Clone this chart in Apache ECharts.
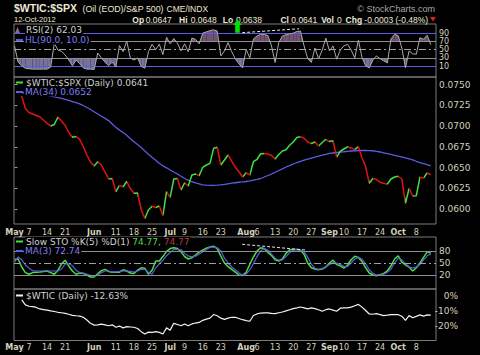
<!DOCTYPE html>
<html><head><meta charset="utf-8">
<script src="https://cdn.jsdelivr.net/npm/echarts@6/dist/echarts.min.js"></script>
<style>html,body{margin:0;padding:0;background:#000;}#c{width:480px;height:355px;}</style>
</head><body><div id="c"></div>
<script>
// ---- x-axis (trading-day index, 0 = 1-May-2012) ----
const tickIdx  = [0,4,9,14,22,28,33,38,43,47,52,57,64,67,72,77,82,87,91,96,101,106,111];
const tickText = ['May','7','14','21','Jun','11','18','25','Jul','9','16','23','Aug','6','13','20','27','Sep','10','17','24','Oct','8'];

// ---- $WTIC:$SPX daily close (from index 2 = 3-May) ----
const priceStart = 2;
const priceVals = [
0.07363,0.07213,0.07164,0.07146,0.07128,0.07114,0.07074,0.07032,0.07001,0.07020,
0.07110,0.07062,0.07008,0.06923,0.06866,0.06875,0.06841,0.06748,0.06652,0.06567,
0.06519,0.06571,0.06531,0.06446,0.06362,0.06368,0.06209,0.06284,0.06269,0.06332,
0.06247,0.06189,0.06193,0.05994,0.05885,0.05988,0.06033,0.06018,0.06036,0.05922,
0.06209,0.06141,0.06362,0.06368,0.06229,0.06317,0.06278,0.06410,0.06422,0.06402,
0.06503,0.06531,0.06551,0.06732,0.06745,0.06531,0.06591,0.06652,0.06579,0.06503,
0.06450,0.06386,0.06438,0.06410,0.06571,0.06600,0.06667,0.06670,0.06664,0.06646,
0.06603,0.06658,0.06700,0.06714,0.06769,0.06808,0.06863,0.06872,0.06853,0.06808,
0.06790,0.06808,0.06760,0.06802,0.06841,0.06814,0.06824,0.06627,0.06697,0.06724,
0.06751,0.06736,0.06720,0.06752,0.06615,0.06513,0.06310,0.06368,0.06356,0.06322,
0.06308,0.06302,0.06362,0.06386,0.06395,0.06362,0.06069,0.06247,0.06157,0.06160,
0.06384,0.06374,0.06434,0.06413];

// ---- MA(34) (from index 2) ----
const ma34Vals = [
0.07406,0.07400,0.07395,0.07390,0.07385,0.07380,0.07376,0.07371,0.07363,0.07354,
0.07344,0.07335,0.07324,0.07310,0.07297,0.07284,0.07269,0.07249,0.07225,0.07201,
0.07173,0.07146,0.07120,0.07093,0.07067,0.07026,0.06985,0.06953,0.06922,0.06889,
0.06847,0.06812,0.06777,0.06741,0.06700,0.06661,0.06624,0.06588,0.06550,0.06521,
0.06497,0.06471,0.06446,0.06422,0.06396,0.06368,0.06345,0.06329,0.06316,0.06304,
0.06292,0.06287,0.06286,0.06286,0.06288,0.06291,0.06297,0.06304,0.06311,0.06317,
0.06323,0.06327,0.06332,0.06339,0.06349,0.06357,0.06368,0.06386,0.06404,0.06422,
0.06443,0.06465,0.06485,0.06507,0.06524,0.06543,0.06561,0.06576,0.06589,0.06602,
0.06614,0.06626,0.06637,0.06649,0.06659,0.06670,0.06676,0.06682,0.06687,0.06691,
0.06696,0.06700,0.06703,0.06706,0.06706,0.06706,0.06705,0.06703,0.06696,0.06688,
0.06678,0.06668,0.06658,0.06648,0.06637,0.06629,0.06618,0.06606,0.06594,0.06576,
0.06560,0.06549,0.06535,0.06520];

// ---- RSI(2) (from index 0) ----
const rsiVals = [
59,20,11,5,4,3,3,3,3,3,
8,66,49,46,37,25,11,25,16,6,
3,3,2,42,30,20,11,20,8,60,
45,71,30,25,30,10,5,45,63,50,
63,38,80,64,77,66,47,64,45,78,
75,64,90,93,96,98,95,35,47,67,
45,28,16,6,51,30,76,83,87,87,
84,59,19,67,83,86,88,90,94,95,
59,28,19,54,28,49,78,47,59,27,
49,59,63,49,30,73,31,11,6,25,
35,28,23,18,76,87,84,54,6,47,
40,39,79,75,85,62.03];

// ---- Slow STO %K(5) and its MA(3) (from index 0) ----
const stoK = [
59,60,40,26,22,26,27,27.5,29,30,
26,22,32,48,57,42,30,22,25,24,
20,15,15,23,31,34,29,27,27,27,
33,30,25,24,32,38,37,22,32,55,
55,66,79,86,88,86,78,66,60,63,
70,77,82,87,90,92,86,67,50,41,
34,27,20,19,27,47,65,80,88,86,
76,69,58,55,60,74,83,84,84,82,
72,50,38,35,33,35,40,50,57,46,
43,37,45,58,67,64,54,38,25,20,
18,21,24,30,43,60,68,52,45,40,
30,38,50,64,78,74.77];
const stoD = [
52,65,58,45,37,31,30,30,30,30,
30,30,30,35,48,48,43,32,26,25,
22,19,17.5,20,26,30,30,28,28,29,
30,30,29,27.5,30,34,34,27,22,38,
48,57,68,76,84,84,83,74,67,66,
67,72,78,84,89,90,88,80,62,50,
40,33,25,20,22,33,48,66,80,86,
82,72,62,57,58,66,76,82,84,82,
78,64,47,37,34,36,40,46,51,50,
46,41,41,50,60,64,60,48,33,24,
20,20,22,27,35,50,62,58,48,40,
38,40,46,58,68,72.74];

// ---- $WTIC % change (from index 2) ----
const wticStart = 2;
const wticPct = [
-2.5,-5.8,-6.7,-7,-7.5,-8.5,-8.9,-9.3,-9.8,-10.2,
-10.7,-11,-11.4,-12,-12.7,-13,-13.2,-14,-15.8,-18,
-19.2,-19,-18.5,-19,-19.6,-19,-20.6,-19.8,-21,-20.2,
-20.4,-20.6,-21.4,-23.5,-25,-23.8,-24,-23.5,-24,-25,
-21,-22.5,-18,-18.8,-19.6,-18.4,-19.6,-18.4,-17.8,-17.4,
-16,-15.2,-14.6,-12.2,-13,-14.6,-15.4,-14.6,-14,-14,
-14.8,-15.6,-16.2,-16.6,-12.8,-11.8,-11.2,-11.1,-11.1,-11.4,
-11.6,-11,-10.5,-9.8,-9,-8.3,-7.8,-7.2,-7.8,-8.4,
-7.8,-8.3,-9,-10,-9,-8.5,-9.3,-10,-8,-7.8,
-7.8,-7.3,-6.4,-5.5,-7.3,-9.5,-11.8,-12,-11.6,-12.2,
-12.9,-12.6,-12.2,-12.2,-12.3,-13.3,-16,-12.9,-14.3,-13.4,
-12.4,-13.2,-12.4,-12.63];

// ---- axis tick values ----
const priceTicks = [0.0600,0.0625,0.0650,0.0675,0.0700,0.0725,0.0750];
const rsiTicks = [10,30,50,70,90];
const stoTicks = [20,50,80];
const wticTicks = [0,-10,-20];

// ---- RSI shading levels and hand-drawn annotation lines [index, value] ----
const rsiHiLevel = 70, rsiLoLevel = 30;
const rsiTrend = [[62.9,91],[78.6,100.5]];
const stoTrend = [[62.9,96.8],[80.4,82.5]];

// ================= rendering =================
const FONT = 'DejaVu Sans';
const LBL = '#d6d1bc';
const FRAME = '#7c7c7c';
const UP = '#3fe03f', DOWN = '#e01212';
const BLUE = '#5c5ce0';
const X0 = -0.14, X1 = 116.44;

const chart = echarts.init(document.getElementById('c'), null, {renderer:'svg'});
const pairs = (arr, start) => arr.map((v,k)=>[start+k, v]);

const grids = [
  {left:14, top:24, width:422, height:53},
  {left:14, top:77, width:422, height:147},
  {left:14, top:237, width:422, height:52},
  {left:14, top:289, width:422, height:51.5}
].map(g => Object.assign(g, {show:true, borderColor:FRAME, borderWidth:1, backgroundColor:'transparent'}));

function xAx(gi, show, margin){
  return {type:'value', gridIndex:gi, min:X0, max:X1,
    axisLine:{show:false}, axisTick:{show:false}, splitLine:{show:false},
    axisLabel:{show:show, customValues:tickIdx, margin:margin, fontSize:8, fontFamily:FONT, color:LBL,
      formatter: v => { const k = tickIdx.indexOf(Math.round(v)); const t = k>=0 ? tickText[k] : '';
        return /^[A-Z]/.test(t) ? '{b|'+t+'}' : t; },
      rich:{b:{fontWeight:'bold', fontSize:8, fontFamily:FONT, color:LBL}}}};
}
function yAx(gi, min, max, ticks, fmt, fs, extra){
  return Object.assign({type:'value', gridIndex:gi, position:'right', min, max,
    axisLine:{show:false}, splitLine:{show:false},
    axisTick:{show:true, customValues:ticks, length:3, lineStyle:{color:'#9a9a9a'}},
    axisLabel:{customValues:ticks, margin:3, fontSize:fs, fontFamily:FONT, color:LBL, formatter:fmt}}, extra||{});
}

const pieces = [];
for (let k=1;k<priceVals.length;k++){
  const p = {lte: priceStart+k, color: priceVals[k] >= priceVals[k-1] ? UP : DOWN};
  if (k===1) p.gte = priceStart; else p.gt = priceStart+k-1;
  pieces.push(p);
}

const hLine = (y, color, type) => ({yAxis:y, lineStyle:{color, width:1, type}});

// shading between the RSI line and a level, drawn segment by segment through the axes
function shadeSegment(api, i, a, b, lvl, above, color){
  const clip = v => above ? Math.max(v,lvl) : Math.min(v,lvl);
  const ca = clip(a), cb = clip(b);
  if (ca === lvl && cb === lvl) return null;
  const pts = [[i, ca]];
  if ((a-lvl)*(b-lvl) < 0) pts.push([i + (lvl-a)/(b-a), lvl]);
  pts.push([i+1, cb], [i+1, lvl], [i, lvl]);
  return {type:'polygon', shape:{points: pts.map(p => api.coord(p))}, style:{fill:color}};
}

const series = [
  {type:'custom', xAxisIndex:0, yAxisIndex:0, z:2, silent:true,
   data: rsiVals.slice(0,-1).map((v,i)=>[i, v, rsiVals[i+1]]),
   renderItem: (params, api) => {
     const i = api.value(0), a = api.value(1), b = api.value(2);
     const ch = [shadeSegment(api,i,a,b,rsiHiLevel,true,'#6f5276'),
                 shadeSegment(api,i,a,b,rsiLoLevel,false,'#75739d')].filter(Boolean);
     return {type:'group', children: ch};
   }},
  // RSI line
  {type:'line', xAxisIndex:0, yAxisIndex:0, symbol:'none', z:5,
   lineStyle:{color:'#a9a9a9', width:1}, data: pairs(rsiVals,0),
   markLine:{silent:true, symbol:['none','none'], label:{show:false},
     data:[hLine(90,BLUE,'solid'), hLine(10,BLUE,'solid'), hLine(70,'#8e8e8e','solid'),
           hLine(30,'#8e8e8e','solid'), hLine(50,'#a0a0a0',[7,3,2,3]),
           [{coord:rsiTrend[0], lineStyle:{color:'#e8e8e8', type:[3,2], width:1}},{coord:rsiTrend[1]}]]}},
  // price panel
  {type:'line', xAxisIndex:1, yAxisIndex:1, symbol:'none', lineStyle:{color:BLUE, width:1.3},
   data: pairs(ma34Vals, priceStart)},
  {type:'line', xAxisIndex:1, yAxisIndex:1, symbol:'none', lineStyle:{width:1.5}, z:3,
   data: pairs(priceVals, priceStart)},
  // STO panel
  {type:'line', xAxisIndex:2, yAxisIndex:2, symbol:'none', lineStyle:{color:'#44e044', width:1.5},
   data: pairs(stoK,0),
   markLine:{silent:true, symbol:['none','none'], label:{show:false},
     data:[hLine(80,'#8e8e8e','solid'), hLine(20,'#8e8e8e','solid'), hLine(50,'#a0a0a0',[7,3,2,3]),
           [{coord:stoTrend[0], lineStyle:{color:'#e8e8e8', type:[3,2], width:1}},{coord:stoTrend[1]}]]}},
  {type:'line', xAxisIndex:2, yAxisIndex:2, symbol:'none', lineStyle:{color:BLUE, width:1.2},
   data: pairs(stoD,0)},
  // WTIC panel
  {type:'line', xAxisIndex:3, yAxisIndex:3, symbol:'none', lineStyle:{color:'#f2f2f2', width:1.2},
   data: pairs(wticPct, wticStart)}
];

function txt(x, y, text, fill, font, extra){
  return {type:'text', x, y, z:100, style:Object.assign({text, fill, font: font || ('9px "'+FONT+'"'),
    verticalAlign:'middle', align:'left'}, extra||{})};
}
function dash(x, y, color){
  return {type:'line', z:100, shape:{x1:x, y1:y, x2:x+7, y2:y}, style:{stroke:color, lineWidth:2}};
}
const SANS = '"Liberation Sans"';
const HEAD = '#ece8d6';
const F85 = '8.5px '+SANS, B85 = 'bold 8.5px '+SANS;
const BG = {backgroundColor:'#000', padding:[0,1]};
const graphic = [
  txt(14, 8, '$WTIC:$SPX', HEAD, 'bold 10.5px '+SANS),
  txt(82.5, 8.5, '(Oil (EOD)/S&P 500)', HEAD, '8.8px '+SANS),
  txt(166.5, 8.5, 'CME/INDX', HEAD, '8.5px '+SANS),
  txt(435, 8.5, '\u00A9 StockCharts.com', '#a8a8a8', '9px '+SANS, {align:'right'}),
  txt(14, 19.5, '12-Oct-2012', HEAD, '7.5px '+SANS),
  txt(132.3, 19.5, 'Op', HEAD, B85), txt(145.7, 19.5, '0.0647', HEAD, F85),
  txt(179, 19.5, 'Hi', HEAD, B85), txt(190.7, 19.5, '0.0648', HEAD, F85),
  txt(222.7, 19.5, 'Lo', HEAD, B85), txt(236, 19.5, '0.0638', HEAD, F85),
  txt(280.4, 19.5, 'Cl', HEAD, B85), txt(291.3, 19.5, '0.0641', HEAD, F85),
  txt(321.3, 19.5, 'Vol', HEAD, B85), txt(336.9, 19.5, '0', HEAD, F85),
  txt(345.6, 19.5, 'Chg', HEAD, B85), txt(364.3, 19.5, '-0.0003 (-0.48%)', HEAD, F85),
  {type:'polygon', z:100, shape:{points:[[430,17],[436,17],[433,21.5]]}, style:{fill:'#e02020'}},
  {type:'polygon', z:101, shape:{points:[[237.5,19.3],[241.8,25],[239.8,25],[239.8,32.7],[235.2,32.7],[235.2,25],[233.2,25]]}, style:{fill:'#00e000'}},
  // RSI legend
  {type:'polygon', z:100, shape:{points:[[15,33],[17.5,27],[20,33]]}, style:{fill:'#8a6a90'}},
  txt(25, 30, 'RSI(2) 62.03', '#d2d2d2', null, BG),
  dash(16, 40, BLUE), txt(24, 40, 'HL(90.0, 10.0)', '#7e7ef2', null, BG),
  // price legend
  dash(16, 82.5, UP), txt(25, 82.5, '$WTIC:$SPX (Daily) 0.0641', '#cfcfcf', null, BG),
  dash(16, 92, BLUE), txt(24, 92, 'MA(34) 0.0652', '#7e7ef2', null, BG),
  // STO legend
  dash(16, 241.5, UP),
  txt(25, 241.5, '{a|Slow STO %K(5) %D(1) }{g|74.77, }{r|74.77}', '#cfcfcf', null,
      Object.assign({rich:{a:{fill:'#cfcfcf', font:'9px "'+FONT+'"'},
       g:{fill:'#4cd84c', font:'9px "'+FONT+'"'}, r:{fill:'#b23a3a', font:'9px "'+FONT+'"'}}}, BG)),
  dash(16, 251, BLUE), txt(24, 251, 'MA(3) 72.74', '#7e7ef2', null, BG),
  // WTIC legend
  dash(16, 295.5, '#f2f2f2'), txt(25, 295.5, '$WTIC (Daily) -12.63%', '#d2d2d2', null, BG)
];

chart.setOption({
  backgroundColor:'#000',
  animation:false,
  grid: grids,
  xAxis: [xAx(0,false,4), xAx(1,true,4), xAx(2,false,4), xAx(3,true,3)],
  yAxis: [
    yAx(0, -16, 112, rsiTicks, v => String(v), 8),
    yAx(1, 0.05819, 0.075929, priceTicks, v => v.toFixed(4), 9),
    yAx(2, -15, 115, stoTicks, v => String(v), 9),
    yAx(3, -29.33, 4.67, wticTicks, v => v+'%', 9,
        {axisTick:{show:false}, axisLabel:{customValues:wticTicks, margin:22, align:'right', fontSize:9,
         fontFamily:FONT, color:LBL, formatter: v => v+'%'}})
  ],
  visualMap: [{show:false, type:'piecewise', seriesIndex:3, dimension:0, pieces, outOfRange:{color:DOWN}}],
  series,
  graphic
});
</script></body></html>
